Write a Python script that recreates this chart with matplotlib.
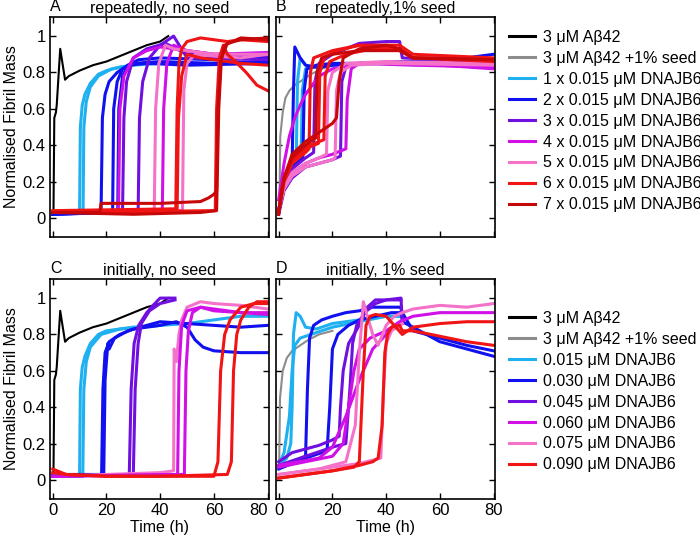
import matplotlib
matplotlib.use("Agg")
import matplotlib.pyplot as plt
from matplotlib.lines import Line2D

plt.rcParams['font.family'] = ['Liberation Sans', 'DejaVu Sans']
plt.rcParams['font.size'] = 11.5

# series colours
colors = {
    'black': '#000000', 'gray': '#8c8c8c', 'lightblue': '#1fb0f0',
    'blue': '#1010f0', 'violet': '#7010e0', 'magenta': '#d010e6',
    'pink': '#f472c8', 'red': '#f01414', 'darkred': '#c80808',
}

legend_top = ['3 μM Aβ42', '3 μM Aβ42 +1% seed'] + \
    ['%d x 0.015 μM DNAJB6' % i for i in range(1, 8)]
legend_bottom = ['3 μM Aβ42', '3 μM Aβ42 +1% seed', '0.015 μM DNAJB6',
                 '0.030 μM DNAJB6', '0.045 μM DNAJB6', '0.060 μM DNAJB6',
                 '0.075 μM DNAJB6', '0.090 μM DNAJB6']
keys_top = ['black', 'gray', 'lightblue', 'blue', 'violet', 'magenta', 'pink', 'red', 'darkred']
keys_bottom = keys_top[:-1]

titles = ['repeatedly, no seed', 'repeatedly,1% seed', 'initially, no seed', 'initially, 1% seed']
letters = ['A', 'B', 'C', 'D']

black_t = [0, 0.3, 0.6, 1.2, 1.5, 2.8, 4.6, 6, 10, 15, 20, 25, 30, 35, 40, 43]
black_y = [0.03, 0.04, 0.55, 0.58, 0.62, 0.93, 0.76, 0.78, 0.81, 0.84, 0.86, 0.89, 0.92, 0.95, 0.97, 1.0]

# panel A: repeatedly, no seed  (key, time h, normalised mass)
curves_a = [
    ('black', black_t, black_y),
    ('lightblue', [0, 10, 10.3, 11, 12, 14, 17, 20, 25, 30, 40, 60, 80],
     [0.02, 0.03, 0.5, 0.62, 0.68, 0.74, 0.79, 0.81, 0.83, 0.84, 0.85, 0.85, 0.85]),
    ('lightblue', [0, 11.3, 11.6, 12.5, 14, 17, 22, 30],
     [0.02, 0.03, 0.5, 0.64, 0.72, 0.78, 0.82, 0.84]),
    ('blue', [0, 18, 18.5, 19.5, 21, 24, 28, 35, 50, 80],
     [0.02, 0.03, 0.55, 0.68, 0.75, 0.8, 0.84, 0.85, 0.84, 0.85]),
    ('blue', [0, 22.3, 22.7, 24, 26, 30, 40, 60, 80],
     [0.02, 0.03, 0.6, 0.75, 0.82, 0.85, 0.86, 0.85, 0.86]),
    ('blue', [0, 24.2, 24.6, 26, 28, 32, 40, 60, 80],
     [0.02, 0.03, 0.6, 0.78, 0.84, 0.87, 0.88, 0.87, 0.88]),
    ('violet', [0, 26, 26.5, 27.5, 30, 35, 42, 50, 80],
     [0.03, 0.04, 0.55, 0.75, 0.88, 0.93, 0.96, 0.9, 0.89]),
    ('violet', [0, 31.8, 32.3, 33.5, 36, 40, 45, 50, 80],
     [0.03, 0.04, 0.55, 0.75, 0.88, 0.95, 1.0, 0.88, 0.87]),
    ('magenta', [0, 24.5, 25, 26.5, 30, 35, 40, 60, 80],
     [0.03, 0.04, 0.6, 0.78, 0.88, 0.92, 0.94, 0.9, 0.9]),
    ('magenta', [0, 40.8, 41.3, 42.5, 45, 50, 60, 80],
     [0.03, 0.04, 0.6, 0.85, 0.95, 0.92, 0.9, 0.91]),
    ('pink', [0, 37.8, 38.3, 39.5, 42, 45, 60, 80],
     [0.03, 0.04, 0.6, 0.85, 0.95, 0.93, 0.9, 0.9]),
    ('pink', [0, 48.3, 48.8, 50, 53, 60, 70, 80],
     [0.03, 0.04, 0.7, 0.85, 0.9, 0.89, 0.88, 0.9]),
    ('red', [0, 45.8, 46.3, 47, 48, 50, 55, 60, 65, 70, 80],
     [0.04, 0.05, 0.6, 0.85, 0.93, 0.97, 0.99, 0.98, 0.97, 0.98, 0.97]),
    ('red', [0, 46.3, 46.8, 48, 50, 55, 60, 70, 80],
     [0.03, 0.04, 0.55, 0.78, 0.9, 0.88, 0.87, 0.85, 0.84]),
    ('red', [0, 60.5, 61, 62, 63.5, 65, 68, 72, 76, 80],
     [0.03, 0.04, 0.6, 0.88, 0.95, 0.9, 0.86, 0.8, 0.73, 0.7]),
    ('darkred', [0, 17.5, 18, 40, 55, 58, 60, 61, 61.5, 62.5, 64, 70, 80],
     [0.03, 0.03, 0.08, 0.08, 0.09, 0.11, 0.13, 0.15, 0.6, 0.85, 0.95, 0.99, 0.98]),
    ('darkred', [0, 30, 55, 61, 61.8, 62.8, 65, 70, 80],
     [0.03, 0.02, 0.03, 0.04, 0.6, 0.88, 0.96, 0.98, 0.99]),
]

# panel B: repeatedly, 1% seed
curves_b = [
    ('gray', [0, 0.3, 0.6, 1.5, 2.5, 4, 6, 9, 12, 16, 20, 30, 50, 80],
     [0.05, 0.1, 0.45, 0.58, 0.66, 0.7, 0.73, 0.76, 0.79, 0.82, 0.84, 0.85, 0.84, 0.85]),
    ('lightblue', [0, 1, 2, 4, 6.5, 7, 8, 10, 14, 20, 40, 80],
     [0.03, 0.12, 0.2, 0.27, 0.3, 0.75, 0.88, 0.84, 0.83, 0.84, 0.85, 0.86]),
    ('lightblue', [0, 2, 5, 8.3, 8.8, 10, 14, 30, 80],
     [0.03, 0.18, 0.28, 0.32, 0.7, 0.82, 0.83, 0.85, 0.86]),
    ('blue', [0, 1, 2, 3.5, 5, 5.5, 6, 8, 10, 13, 16, 20, 30, 45, 60, 70, 80],
     [0.02, 0.12, 0.2, 0.28, 0.3, 0.7, 0.94, 0.88, 0.84, 0.83, 0.83, 0.84, 0.85, 0.86, 0.86, 0.88, 0.9]),
    ('blue', [0, 2, 5, 9, 9.5, 10.5, 14, 20, 30, 50, 80],
     [0.03, 0.18, 0.28, 0.33, 0.7, 0.82, 0.84, 0.85, 0.85, 0.85, 0.86]),
    ('violet', [0, 2, 5, 10, 13, 13.5, 15, 20, 30, 40, 45, 46, 60, 80],
     [0.04, 0.18, 0.27, 0.33, 0.36, 0.75, 0.85, 0.9, 0.96, 0.97, 0.97, 0.88, 0.87, 0.85]),
    ('violet', [0, 2, 5, 10, 15, 20, 23, 23.5, 25, 30, 50, 80],
     [0.02, 0.15, 0.22, 0.28, 0.3, 0.32, 0.34, 0.75, 0.83, 0.85, 0.85, 0.84]),
    ('magenta', [0, 1, 2, 4, 6, 8, 10, 12, 15, 20, 30, 45, 60, 80],
     [0.1, 0.2, 0.3, 0.45, 0.55, 0.62, 0.68, 0.72, 0.78, 0.82, 0.85, 0.85, 0.84, 0.82]),
    ('magenta', [0, 2, 5, 10, 15, 20, 25, 25.5, 27, 30, 50, 80],
     [0.05, 0.17, 0.25, 0.3, 0.33, 0.35, 0.38, 0.65, 0.82, 0.85, 0.84, 0.83]),
    ('pink', [0, 2, 5, 10, 15, 20, 21, 21.5, 23, 27, 40, 80],
     [0.04, 0.16, 0.23, 0.28, 0.3, 0.32, 0.33, 0.7, 0.8, 0.84, 0.85, 0.84]),
    ('pink', [0, 2, 5, 10, 15, 17.8, 18.3, 20, 25, 40, 80],
     [0.04, 0.17, 0.25, 0.3, 0.33, 0.35, 0.7, 0.8, 0.85, 0.86, 0.85]),
    ('red', [0, 2, 5, 10, 11.3, 11.8, 13, 20, 30, 45, 50, 60, 80],
     [0.03, 0.2, 0.3, 0.36, 0.38, 0.8, 0.88, 0.92, 0.95, 0.93, 0.88, 0.88, 0.87]),
    ('red', [0, 2, 5, 10, 14.8, 15.3, 17, 22, 30, 45, 50, 80],
     [0.03, 0.21, 0.31, 0.38, 0.41, 0.8, 0.88, 0.92, 0.95, 0.95, 0.9, 0.88]),
    ('red', [0, 2, 5, 10, 16.8, 17.3, 19, 25, 35, 45, 50, 80],
     [0.03, 0.22, 0.32, 0.39, 0.43, 0.78, 0.86, 0.9, 0.93, 0.92, 0.88, 0.86]),
    ('darkred', [0, 2, 5, 10, 13.8, 14.3, 16, 20, 30, 45, 50, 80],
     [0.04, 0.22, 0.33, 0.4, 0.44, 0.8, 0.88, 0.9, 0.92, 0.92, 0.88, 0.87]),
    ('darkred', [0, 1, 2, 5, 10, 15, 20, 21.5, 22.5, 24, 30, 40, 45, 50, 80],
     [0.02, 0.15, 0.22, 0.35, 0.42, 0.47, 0.52, 0.55, 0.75, 0.88, 0.93, 0.95, 0.93, 0.88, 0.87]),
]

# panel C: initially, no seed
curves_c = [
    ('black', black_t, black_y),
    ('lightblue', [0, 10, 10.3, 11, 12, 14, 17, 20, 30, 40, 50, 60, 70, 80],
     [0.02, 0.02, 0.5, 0.62, 0.68, 0.75, 0.8, 0.82, 0.84, 0.85, 0.86, 0.88, 0.9, 0.9]),
    ('lightblue', [0, 11.2, 11.6, 12.5, 14, 18, 25, 40],
     [0.02, 0.02, 0.5, 0.65, 0.73, 0.8, 0.83, 0.85]),
    ('blue', [0, 19, 19.5, 20.5, 21, 23, 28, 35, 40, 50, 60, 70, 80],
     [0.03, 0.03, 0.55, 0.75, 0.72, 0.78, 0.82, 0.85, 0.87, 0.86, 0.85, 0.84, 0.85]),
    ('blue', [0, 18.2, 18.7, 19.5, 21, 25, 30, 40, 46, 50, 53, 56, 60, 70, 80],
     [0.02, 0.03, 0.5, 0.7, 0.76, 0.8, 0.83, 0.85, 0.87, 0.84, 0.77, 0.73, 0.71, 0.7, 0.7]),
    ('violet', [0, 28.5, 29.2, 30.3, 32, 35, 38, 40, 45.5],
     [0.02, 0.03, 0.5, 0.75, 0.85, 0.92, 0.97, 1.0, 1.0]),
    ('violet', [0, 30, 30.7, 31.8, 33, 36, 40, 45.5],
     [0.02, 0.03, 0.5, 0.75, 0.86, 0.93, 0.97, 0.99]),
    ('pink', [0, 40, 45, 45.2, 46, 47, 48, 50, 55, 60, 70, 80],
     [0.02, 0.04, 0.05, 0.72, 0.65, 0.8, 0.88, 0.95, 0.98, 0.97, 0.96, 0.94]),
    ('magenta', [0, 46.5, 47, 48, 50, 55, 60, 70, 80],
     [0.02, 0.03, 0.6, 0.85, 0.93, 0.95, 0.93, 0.92, 0.92]),
    ('magenta', [0, 49, 49.6, 50.5, 52, 55, 60, 70, 80],
     [0.02, 0.03, 0.6, 0.82, 0.92, 0.95, 0.94, 0.92, 0.91]),
    ('red', [0, 5, 20, 40, 60, 61.5, 62.5, 64, 66, 70, 75, 80],
     [0.06, 0.03, 0.02, 0.02, 0.02, 0.1, 0.6, 0.8, 0.88, 0.95, 0.97, 0.97]),
    ('red', [0, 5, 20, 40, 65, 66.5, 67.3, 68.5, 70, 73, 76, 80],
     [0.04, 0.03, 0.02, 0.02, 0.03, 0.1, 0.6, 0.8, 0.88, 0.95, 0.98, 0.98]),
]

# panel D: initially, 1% seed
curves_d = [
    ('gray', [0, 0.2, 0.5, 1.5, 3, 5, 8, 11, 15, 20],
     [0.08, 0.09, 0.45, 0.6, 0.67, 0.71, 0.74, 0.77, 0.8, 0.82]),
    ('lightblue', [0, 3, 4.5, 5, 5.5, 6.5, 8, 10, 14, 20, 30, 40, 46],
     [0.08, 0.12, 0.2, 0.4, 0.8, 0.92, 0.9, 0.84, 0.83, 0.86, 0.88, 0.9, 0.9]),
    ('lightblue', [0, 2, 4, 5, 6, 8, 12, 20, 30, 40, 46],
     [0.08, 0.15, 0.35, 0.6, 0.74, 0.78, 0.8, 0.84, 0.87, 0.9, 0.9]),
    ('blue', [0, 5, 10, 10.7, 11.5, 13, 16, 20, 25, 30, 35, 40, 45.5, 46, 50, 55, 60, 70, 80],
     [0.07, 0.1, 0.13, 0.5, 0.78, 0.85, 0.88, 0.9, 0.92, 0.93, 0.95, 0.95, 0.95, 0.87, 0.84, 0.8, 0.76, 0.72, 0.68]),
    ('blue', [0, 10, 18, 19, 20, 22, 26, 30, 36, 42, 46, 50, 60, 70, 80],
     [0.06, 0.12, 0.16, 0.4, 0.72, 0.8, 0.85, 0.88, 0.9, 0.92, 0.92, 0.82, 0.78, 0.74, 0.71]),
    ('violet', [0, 5, 10, 15, 20, 22.5, 23, 24, 26, 30, 33, 36, 40, 45.5, 46],
     [0.1, 0.15, 0.17, 0.19, 0.22, 0.24, 0.4, 0.6, 0.75, 0.85, 0.95, 0.99, 0.99, 1.0, 0.88]),
    ('violet', [0, 10, 20, 25, 26.5, 27.5, 29, 32, 36, 40, 45.5],
     [0.08, 0.13, 0.18, 0.2, 0.5, 0.75, 0.85, 0.92, 0.97, 0.99, 0.99]),
    ('magenta', [0, 10, 20, 24, 26, 28, 30, 34, 40, 45, 50, 60, 70, 80],
     [0.07, 0.1, 0.13, 0.2, 0.4, 0.6, 0.72, 0.78, 0.82, 0.87, 0.9, 0.92, 0.92, 0.92]),
    ('magenta', [0, 15, 20, 25, 30, 35, 40, 44, 46],
     [0.08, 0.12, 0.18, 0.35, 0.55, 0.72, 0.8, 0.85, 0.86]),
    ('pink', [0, 15, 25, 28.5, 30, 31.5, 33, 35, 37, 40, 43, 46, 50, 60, 70, 80],
     [0.03, 0.06, 0.1, 0.3, 0.7, 0.98, 0.9, 0.8, 0.74, 0.85, 0.9, 0.92, 0.94, 0.96, 0.95, 0.97]),
    ('pink', [0, 15, 30, 38, 39, 40, 42, 45, 46],
     [0.03, 0.06, 0.09, 0.12, 0.5, 0.75, 0.82, 0.85, 0.86]),
    ('red', [0, 10, 20, 28, 30, 31.5, 32.5, 34, 36, 40, 43, 46, 50, 60, 70, 80],
     [0.01, 0.03, 0.05, 0.07, 0.1, 0.6, 0.85, 0.9, 0.91, 0.9, 0.85, 0.8, 0.84, 0.86, 0.87, 0.87]),
    ('red', [0, 10, 20, 30, 35, 37, 38.5, 39.5, 40.5, 42, 45, 46, 50, 60, 70, 80],
     [0.01, 0.03, 0.05, 0.08, 0.1, 0.12, 0.3, 0.7, 0.8, 0.84, 0.85, 0.82, 0.82, 0.79, 0.76, 0.74]),
]

fig = plt.figure(figsize=(7, 5.39), dpi=100)
W, H = 700, 539
boxes = [(50, 17), (276, 17), (50, 279), (276, 279)]
aw, ah = 219, 220
axes = [fig.add_axes([x / W, 1 - (y + ah) / H, aw / W, ah / H]) for x, y in boxes]

for i, (ax, curves) in enumerate(zip(axes, [curves_a, curves_b, curves_c, curves_d])):
    for key, t, y in curves:
        lw = 1.5 if key in ('black', 'gray') else 2.2
        ax.plot(t, y, color=colors[key], lw=lw, solid_joinstyle='round')
    ax.set_xlim(-1, 80.5)
    ax.set_ylim(-0.105, 1.105)
    ax.set_xticks([0, 20, 40, 60, 80])
    ax.set_yticks([0, 0.2, 0.4, 0.6, 0.8, 1])
    ax.set_yticklabels(['0', '0.2', '0.4', '0.6', '0.8', '1'])
    ax.tick_params(direction='in', top=True, right=True, length=4, width=1, labelsize=12, pad=3)
    for s in ax.spines.values():
        s.set_linewidth(1.2)
    if i in (1, 3):
        ax.tick_params(labelleft=False)
    else:
        ax.set_ylabel('Normalised Fibril Mass', fontsize=11.5, labelpad=3)
    if i in (0, 1):
        ax.tick_params(labelbottom=False)
    else:
        ax.set_xlabel('Time (h)', fontsize=11.5, labelpad=1)
    if i == 2:
        # keep "80" clear of the neighbouring panel's "0"
        ax.get_xticklabels()[-1].set_horizontalalignment('right')
    ax.set_title(titles[i], fontsize=11.5, pad=3)
    ax.text(0.0, 1.015, letters[i], transform=ax.transAxes, fontsize=11.5, va='bottom', ha='left')

top_handles = [Line2D([0], [0], color=colors[k], lw=2.2) for k in keys_top]
bottom_handles = [Line2D([0], [0], color=colors[k], lw=2.2) for k in keys_bottom]
common = dict(loc='upper left', frameon=False, fontsize=11.5, borderpad=0, borderaxespad=0,
              handlelength=1.6, handletextpad=0.5, labelspacing=0.37)
fig.legend(top_handles, legend_top, bbox_to_anchor=(509 / W, 1 - 30 / H), **common)
fig.legend(bottom_handles, legend_bottom, bbox_to_anchor=(509 / W, 1 - 311 / H), **common)

fig.savefig('out.png', dpi=100)
